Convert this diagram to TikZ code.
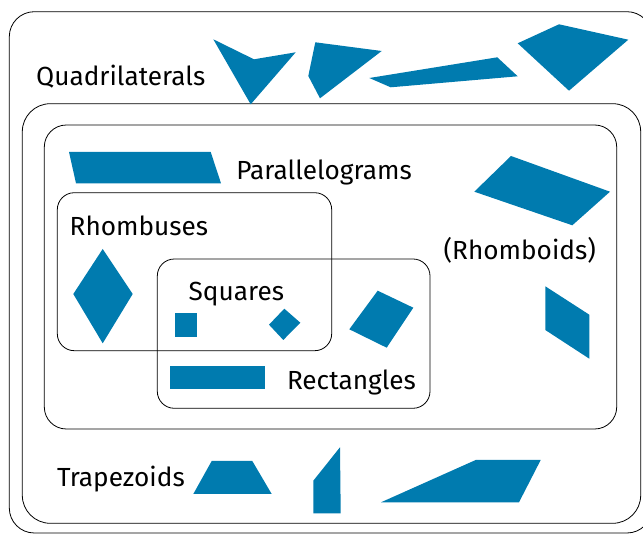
\documentclass[tikz,border=0pt]{standalone}
\usepackage{fontspec}
\setmainfont{Fira Sans}
\usepackage{tikz}
\definecolor{quadblue}{RGB}{0,123,175}

\begin{document}
\begin{tikzpicture}[x=1pt, y=-1pt,
    box/.style = {draw, line width=0.8pt},
    quad/.style = {fill=quadblue},
    setname/.style = {anchor=base west, inner sep=0pt, font=\fontsize{26.2}{31}\selectfont}]
    \useasboundingbox (0,0) rectangle (643,534);
    \draw[box, rounded corners=25pt] (9.3,11.7) rectangle (652,533);
    \draw[box, rounded corners=28pt] (22.3,103.7) rectangle (640.7,523.3);
    \draw[box, rounded corners=22pt] (44.3,125) rectangle (616.7,429);
    \draw[box, rounded corners=17pt] (57.3,192.7) rectangle (331.7,350.7);
    \draw[box, rounded corners=17pt] (157.3,259) rectangle (430,408.3);
    \node[setname] (quadrilaterals) at (36,85.7) {Quadrilaterals};
    \node[setname] (parallelograms) at (236.2,180) {Parallelograms};
    \node[setname] (rhombuses) at (69.5,235.7) {Rhombuses};
    \node[setname] (squares) at (188.5,301) {Squares};
    \node[setname] (rectangles) at (286.8,389.3) {Rectangles};
    \node[setname] (rhomboids) at (443.5,259.5) {(Rhomboids)};
    \node[setname] (trapezoids) at (56.8,486.3) {Trapezoids};
    \fill[quad] (213.3,39.3) -- (254,59.3) -- (295.7,52.3) -- (250.7,104.3) -- cycle;
    \fill[quad] (315.3,42.3) -- (381.7,51) -- (320,98.3) -- (308.3,76) -- cycle;
    \fill[quad] (369.3,78) -- (497.3,57.3) -- (517.7,76.3) -- (390.7,87.3) -- cycle;
    \fill[quad] (517.7,43.3) -- (559,24.3) -- (628.3,39.7) -- (569,90.7) -- cycle;
    \fill[quad] (69,152) -- (210.7,152) -- (221,183.3) -- (76,183.3) -- cycle;
    \fill[quad] (102.7,249) -- (132.7,294) -- (102.7,343.3) -- (73.3,294) -- cycle;
    \fill[quad] (175,313) rectangle (196.7,336.7);
    \fill[quad] (284.3,308.7) -- (300.3,322.7) -- (283.3,340) -- (269,324.7) -- cycle;
    \fill[quad] (377.7,290.7) -- (413.3,307.7) -- (386.7,347.7) -- (349.3,329.3) -- cycle;
    \fill[quad] (170,366) rectangle (265,389.3);
    \fill[quad] (474.3,191.7) -- (511,156) -- (610,191.7) -- (572.3,225.3) -- cycle;
    \fill[quad] (545.3,286.3) -- (589.3,314.7) -- (589.3,358.7) -- (545.3,330) -- cycle;
    \fill[quad] (193.3,494) -- (211.7,461) -- (252.3,461) -- (271.7,494) -- cycle;
    \fill[quad] (313.3,480.7) -- (340,447.3) -- (340.7,513.3) -- (313.3,513.3) -- cycle;
    \fill[quad] (381,502.3) -- (475.7,460) -- (540.7,460) -- (519,502.3) -- cycle;
\end{tikzpicture}
\end{document}
